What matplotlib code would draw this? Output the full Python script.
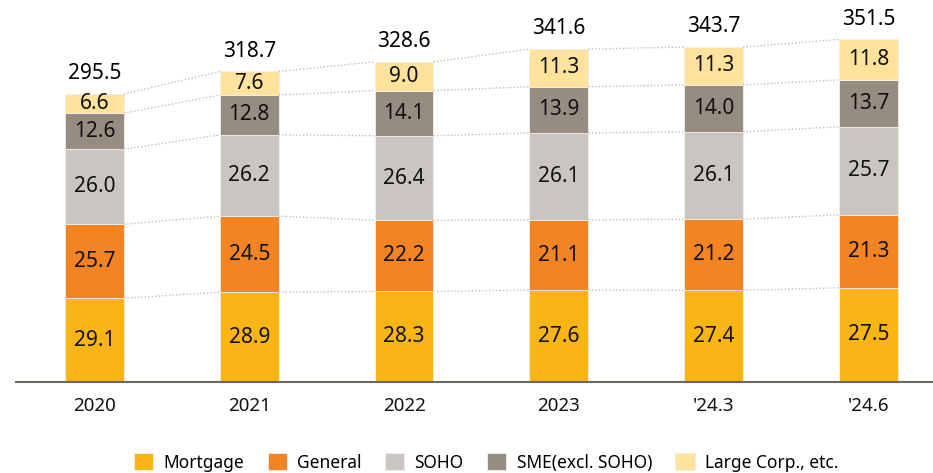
import numpy as np
import matplotlib.pyplot as plt

plt.rcParams['font.family'] = ['Noto Sans', 'DejaVu Sans']

periods = ['2020', '2021', '2022', '2023', "'24.3", "'24.6"]
totals = [295.5, 318.7, 328.6, 341.6, 343.7, 351.5]
mortgage = [29.1, 28.9, 28.3, 27.6, 27.4, 27.5]
general = [25.7, 24.5, 22.2, 21.1, 21.2, 21.3]
soho = [26.0, 26.2, 26.4, 26.1, 26.1, 25.7]
sme = [12.6, 12.8, 14.1, 13.9, 14.0, 13.7]
large_corp = [6.6, 7.6, 9.0, 11.3, 11.3, 11.8]

names = ['Mortgage', 'General', 'SOHO', 'SME(excl. SOHO)', 'Large Corp., etc.']
shares = [mortgage, general, soho, sme, large_corp]
colors = ['#f9b515', '#f28423', '#c9c6c1', '#978c82', '#ffe29c']

fig = plt.figure(figsize=(9.33, 4.73), dpi=100)
ax = fig.add_axes([16/933, 91/473, 917/933, 382/473])

x = np.arange(len(periods))
w = 0.38
tot = np.array(totals)
bottoms = np.zeros(len(periods))
for name, pct, c in zip(names, shares, colors):
    h = tot * np.array(pct) / 100
    ax.bar(x, h, w, bottom=bottoms, color=c, edgecolor='#f4efe8', linewidth=0.6, label=name)
    for xi, b, hi, p in zip(x, bottoms, h, pct):
        ax.text(xi, b + hi/2, f'{p:.1f}', ha='center', va='center', fontsize=15, color='#111111')
    bottoms = bottoms + h
    # dotted connectors between neighbouring bars
    for i in range(len(x) - 1):
        ax.plot([x[i] + w/2, x[i+1] - w/2], [bottoms[i], bottoms[i+1]],
                ls=(0, (1, 1.5)), lw=1, color='#c9bcb1')

for xi, t in zip(x, totals):
    ax.annotate(f'{t:.1f}', (xi, t), xytext=(0, 7), textcoords='offset points',
                ha='center', va='bottom', fontsize=15, fontweight='medium', color='#000000')

ax.set_xlim(-0.507, 5.417)
ax.set_ylim(0, 392)
ax.set_xticks(x)
ax.set_xticklabels(periods, fontsize=13.5, color='#111111')
ax.tick_params(axis='x', length=0, pad=11)
ax.set_yticks([])
for s in ['top', 'right', 'left']:
    ax.spines[s].set_visible(False)
ax.spines['bottom'].set_color('#6e6861')
ax.spines['bottom'].set_linewidth(1.5)

fig.legend(loc='lower center', bbox_to_anchor=(0.521, -0.03), ncol=5, frameon=False,
           fontsize=12.5, handlelength=1.1, handleheight=1.1, handletextpad=0.6,
           columnspacing=1.35)

fig.savefig('out.png', dpi=100)
